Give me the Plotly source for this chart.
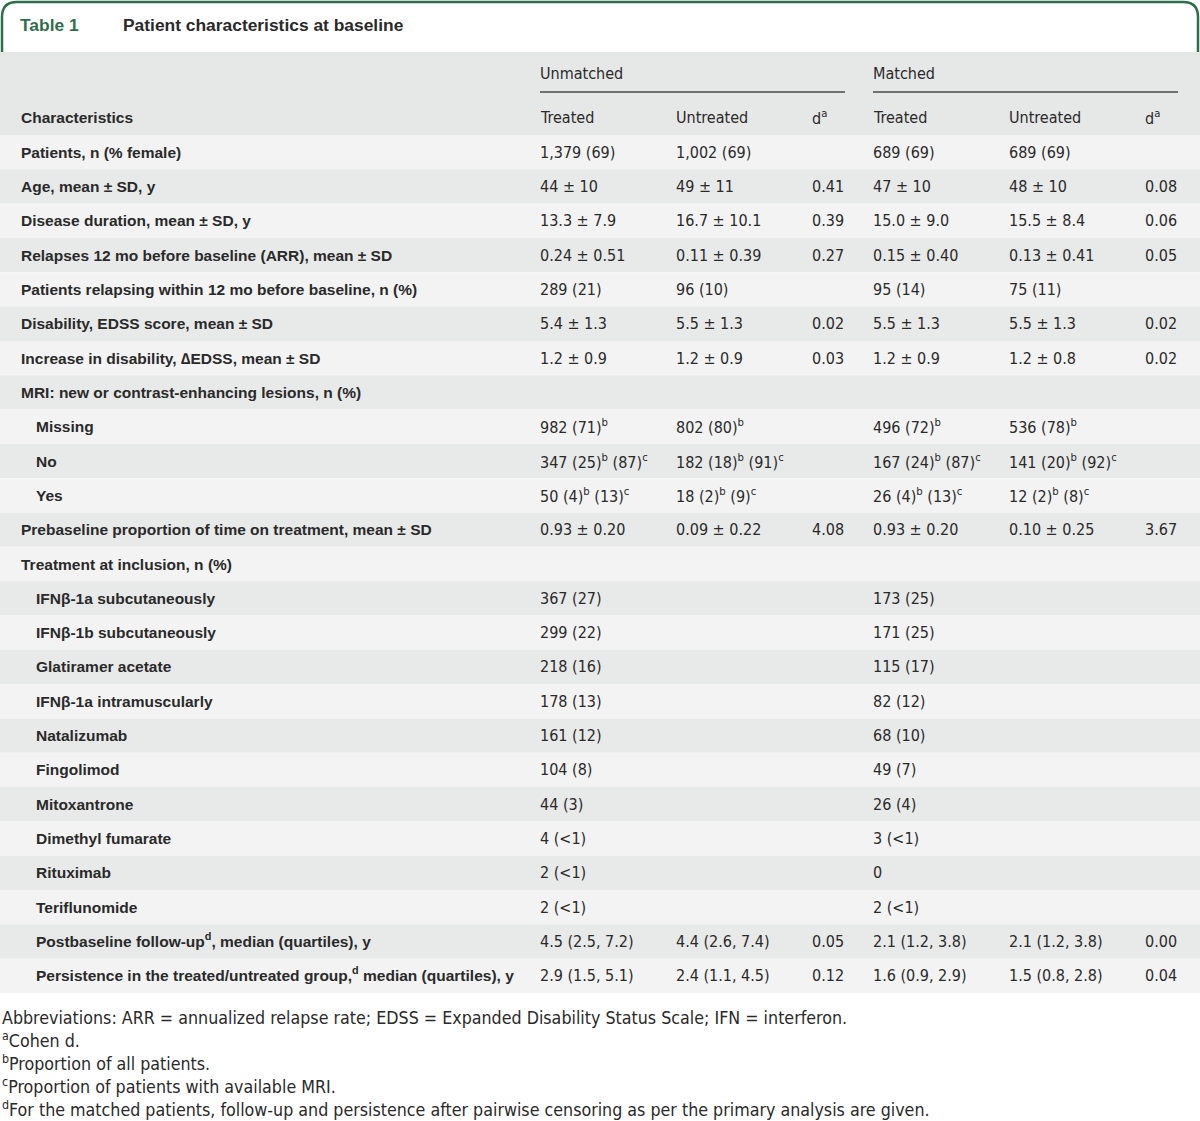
import plotly.graph_objects as go

W, H = 1200, 1121

title_num = "Table 1"
title_text = "Patient characteristics at baseline"
group_labels = ["Unmatched", "Matched"]
header_cols = ["Characteristics", "Treated", "Untreated", "d<sup>a</sup>", "Treated", "Untreated", "d<sup>a</sup>"]

labels = [
    "Patients, n (% female)",
    "Age, mean ± SD, y",
    "Disease duration, mean ± SD, y",
    "Relapses 12 mo before baseline (ARR), mean ± SD",
    "Patients relapsing within 12 mo before baseline, n (%)",
    "Disability, EDSS score, mean ± SD",
    "Increase in disability, ∆EDSS, mean ± SD",
    "MRI: new or contrast-enhancing lesions, n (%)",
    "Missing",
    "No",
    "Yes",
    "Prebaseline proportion of time on treatment, mean ± SD",
    "Treatment at inclusion, n (%)",
    "IFNβ-1a subcutaneously",
    "IFNβ-1b subcutaneously",
    "Glatiramer acetate",
    "IFNβ-1a intramuscularly",
    "Natalizumab",
    "Fingolimod",
    "Mitoxantrone",
    "Dimethyl fumarate",
    "Rituximab",
    "Teriflunomide",
    "Postbaseline follow-up<sup>d</sup>, median (quartiles), y",
    "Persistence in the treated/untreated group,<sup>d</sup> median (quartiles), y",
]
indent = [0, 0, 0, 0, 0, 0, 0, 0, 1, 1, 1, 0, 0, 1, 1, 1, 1, 1, 1, 1, 1, 1, 1, 1, 1]

unmatched_treated = [
    "1,379 (69)", "44 ± 10", "13.3 ± 7.9", "0.24 ± 0.51", "289 (21)", "5.4 ± 1.3", "1.2 ± 0.9", "",
    "982 (71)<sup>b</sup>", "347 (25)<sup>b</sup> (87)<sup>c</sup>", "50 (4)<sup>b</sup> (13)<sup>c</sup>",
    "0.93 ± 0.20", "", "367 (27)", "299 (22)", "218 (16)", "178 (13)", "161 (12)", "104 (8)", "44 (3)",
    "4 (&lt;1)", "2 (&lt;1)", "2 (&lt;1)", "4.5 (2.5, 7.2)", "2.9 (1.5, 5.1)",
]
unmatched_untreated = [
    "1,002 (69)", "49 ± 11", "16.7 ± 10.1", "0.11 ± 0.39", "96 (10)", "5.5 ± 1.3", "1.2 ± 0.9", "",
    "802 (80)<sup>b</sup>", "182 (18)<sup>b</sup> (91)<sup>c</sup>", "18 (2)<sup>b</sup> (9)<sup>c</sup>",
    "0.09 ± 0.22", "", "", "", "", "", "", "", "", "", "", "", "4.4 (2.6, 7.4)", "2.4 (1.1, 4.5)",
]
unmatched_d = [
    "", "0.41", "0.39", "0.27", "", "0.02", "0.03", "", "", "", "", "4.08", "",
    "", "", "", "", "", "", "", "", "", "", "0.05", "0.12",
]
matched_treated = [
    "689 (69)", "47 ± 10", "15.0 ± 9.0", "0.15 ± 0.40", "95 (14)", "5.5 ± 1.3", "1.2 ± 0.9", "",
    "496 (72)<sup>b</sup>", "167 (24)<sup>b</sup> (87)<sup>c</sup>", "26 (4)<sup>b</sup> (13)<sup>c</sup>",
    "0.93 ± 0.20", "", "173 (25)", "171 (25)", "115 (17)", "82 (12)", "68 (10)", "49 (7)", "26 (4)",
    "3 (&lt;1)", "0", "2 (&lt;1)", "2.1 (1.2, 3.8)", "1.6 (0.9, 2.9)",
]
matched_untreated = [
    "689 (69)", "48 ± 10", "15.5 ± 8.4", "0.13 ± 0.41", "75 (11)", "5.5 ± 1.3", "1.2 ± 0.8", "",
    "536 (78)<sup>b</sup>", "141 (20)<sup>b</sup> (92)<sup>c</sup>", "12 (2)<sup>b</sup> (8)<sup>c</sup>",
    "0.10 ± 0.25", "", "", "", "", "", "", "", "", "", "", "", "2.1 (1.2, 3.8)", "1.5 (0.8, 2.8)",
]
matched_d = [
    "", "0.08", "0.06", "0.05", "", "0.02", "0.02", "", "", "", "", "3.67", "",
    "", "", "", "", "", "", "", "", "", "", "0.00", "0.04",
]

footnotes = [
    "Abbreviations: ARR = annualized relapse rate; EDSS = Expanded Disability Status Scale; IFN = interferon.",
    "<sup>a</sup>Cohen d.",
    "<sup>b</sup>Proportion of all patients.",
    "<sup>c</sup>Proportion of patients with available MRI.",
    "<sup>d</sup>For the matched patients, follow-up and persistence after pairwise censoring as per the primary analysis are given.",
]

# ---- layout constants ----
GREEN = "#2f6e4c"
TXT = "#2a2a2a"
HEAD_BG = "#e6e7e7"
DARK_BG = "#e8e9e9"
LIGHT_BG = "#f3f3f3"
BOLD_FONT = "Liberation Sans, Arial, sans-serif"
NARROW_FONT = "Liberation Sans Narrow, Arial Narrow, DejaVu Sans Condensed, sans-serif"

table_top = 135
row_h = 34.32
col_x = [540, 676, 812, 873, 1009, 1145]
label_x = [21, 36]

fig = go.Figure()
shapes = []
ann = []

# title frame
r = 15
path = (f"M 2,52 L 2,{2+r} Q 2,2 {2+r},2 L {W-2-r},2 Q {W-2},2 {W-2},{2+r} L {W-2},52")
shapes.append(dict(type="path", path=path, line=dict(color=GREEN, width=2.5), xref="x", yref="y"))
ann.append(dict(x=20, y=25, text="<b>" + title_num + "</b>", font=dict(family=BOLD_FONT, size=17.4, color=GREEN)))
ann.append(dict(x=123, y=25, text="<b>" + title_text + "</b>", font=dict(family=BOLD_FONT, size=17.4, color=TXT)))

# header background
shapes.append(dict(type="rect", x0=0, x1=W, y0=52, y1=table_top, fillcolor=HEAD_BG, line=dict(width=0), layer="below"))
ann.append(dict(x=col_x[0], y=73, text=group_labels[0], font=dict(family=NARROW_FONT, size=16, color=TXT)))
ann.append(dict(x=col_x[3], y=73, text=group_labels[1], font=dict(family=NARROW_FONT, size=16, color=TXT)))
shapes.append(dict(type="line", x0=col_x[0], x1=845, y0=92, y1=92, line=dict(color="#707070", width=2)))
shapes.append(dict(type="line", x0=col_x[3], x1=1178, y0=92, y1=92, line=dict(color="#707070", width=2)))
ann.append(dict(x=label_x[0], y=117, text="<b>" + header_cols[0] + "</b>", font=dict(family=BOLD_FONT, size=15.5, color=TXT)))
for cx, t in zip(col_x, header_cols[1:]):
    ann.append(dict(x=cx, y=117, text=t, font=dict(family=NARROW_FONT, size=16, color=TXT)))

# body rows
cols = [unmatched_treated, unmatched_untreated, unmatched_d, matched_treated, matched_untreated, matched_d]
for i, lab in enumerate(labels):
    y0 = table_top + i * row_h
    yc = y0 + row_h / 2
    shapes.append(dict(type="rect", x0=0, x1=W, y0=y0, y1=y0 + row_h,
                       fillcolor=(DARK_BG if i % 2 else LIGHT_BG), line=dict(width=0), layer="below"))
    ann.append(dict(x=label_x[indent[i]], y=yc, text="<b>" + lab + "</b>",
                    font=dict(family=BOLD_FONT, size=15.5, color=TXT)))
    for cx, col in zip(col_x, cols):
        if col[i]:
            ann.append(dict(x=cx, y=yc, text=col[i], font=dict(family=NARROW_FONT, size=16, color=TXT)))

# footnotes
for k, fn in enumerate(footnotes):
    ann.append(dict(x=0, y=1018 + 23 * k, text=fn, font=dict(family=NARROW_FONT, size=17.7, color=TXT)))

for a in ann:
    ys = 2 if (a["text"].startswith("<sup>") or ("<sup>d" in a["text"])) else 0
    a.update(xref="x", yref="y", xanchor="left", yanchor="middle", showarrow=False,
             xshift=-2 if a["x"] > 1 else 0, yshift=ys)

# invisible scatter to anchor axes
fig.add_trace(go.Scatter(x=[0, W], y=[0, H], mode="markers", marker=dict(opacity=0), hoverinfo="skip", showlegend=False))

fig.update_layout(
    width=W, height=H, margin=dict(l=0, r=0, t=0, b=0),
    paper_bgcolor="white", plot_bgcolor="white",
    xaxis=dict(range=[0, W], visible=False, fixedrange=True),
    yaxis=dict(range=[H, 0], visible=False, fixedrange=True),
    shapes=shapes, annotations=ann, showlegend=False,
)
fig.write_html("out.html", config={"displayModeBar": False},
               post_script="document.body.style.margin='0';document.body.style.overflow='hidden';")
